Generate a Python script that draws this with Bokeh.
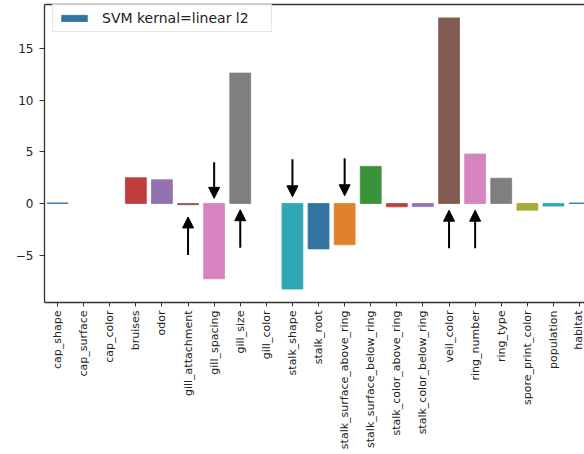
import math
from bokeh.plotting import figure
from bokeh.models import (Range1d, FixedTicker, LinearAxis, Arrow, NormalHead,
                          Legend, LegendItem, ColumnDataSource)
from bokeh.embed import file_html
from bokeh.resources import INLINE

# Mushroom features and their linear-SVM (L2) weights
features = ["cap_shape", "cap_surface", "cap_color", "bruises", "odor",
            "gill_attachment", "gill_spacing", "gill_size", "gill_color",
            "stalk_shape", "stalk_root", "stalk_surface_above_ring",
            "stalk_surface_below_ring", "stalk_color_above_ring",
            "stalk_color_below_ring", "veil_color", "ring_number", "ring_type",
            "spore_print_color", "population", "habitat"]
weights = [0.06, 0.0, 0.0, 2.5, 2.3,
           -0.12, -7.3, 12.65, 0.0,
           -8.3, -4.4, -4.0,
           3.6, -0.32,
           -0.3, 18.0, 4.8, 2.45,
           -0.65, -0.25, 0.05]

# Annotation arrows: (feature, tail y, head y)
arrow_marks = [("gill_attachment", -5.0, -1.3),
               ("gill_spacing", 4.0, 0.5),
               ("gill_size", -4.3, -0.6),
               ("stalk_shape", 4.3, 0.65),
               ("stalk_surface_above_ring", 4.4, 0.75),
               ("veil_color", -4.35, -0.65),
               ("ring_number", -4.35, -0.65)]

palette = ["#3274a1", "#e1812c", "#3a923a", "#c03d3e", "#9372b2",
           "#845b53", "#d684bd", "#7f7f7f", "#a9aa35", "#2ea8b6"]
colors = [palette[i % len(palette)] for i in range(len(features))]
edge_alpha = [1.0 if w != 0 else 0.0 for w in weights]
xs = list(range(len(features)))

src = ColumnDataSource(dict(x=xs, top=weights, color=colors, edge=edge_alpha))

FONT = "DejaVu Sans"
SPINE = "#333333"

p = figure(frame_width=540, frame_height=298,
           min_border_left=44, min_border_right=0, min_border_top=4,
           min_border_bottom=152,
           x_range=Range1d(-0.5, 20.19), y_range=Range1d(-9.6, 19.3),
           output_backend="svg", toolbar_location=None,
           background_fill_color="white", border_fill_color="white")
p.outline_line_color = None
p.xgrid.visible = False
p.ygrid.visible = False

bars = p.vbar(x="x", top="top", bottom=0, width=0.8, source=src,
              fill_color="color", line_color="color", line_alpha="edge",
              line_width=0.8)

legend = Legend(items=[LegendItem(label="SVM kernal=linear l2",
                                  renderers=[bars], index=0)],
                location=(8, 270),
                label_text_font=FONT, label_text_font_size="14px",
                label_text_color="#222222",
                glyph_width=32, glyph_height=8, label_standoff=12,
                label_height=16, label_width=164,
                padding=5, spacing=0,
                border_line_color="#cccccc", border_line_width=1,
                background_fill_color="white", background_fill_alpha=0.8)
p.add_layout(legend)

for name, y0, y1 in arrow_marks:
    i = features.index(name)
    p.add_layout(Arrow(end=NormalHead(size=11, fill_color="black", line_color="black"),
                       x_start=i, y_start=y0, x_end=i, y_end=y1,
                       line_color="black", line_width=2))

# axes
xa = p.xaxis[0]
xa.ticker = FixedTicker(ticks=xs)
xa.major_label_overrides = {i: f for i, f in enumerate(features)}
xa.major_label_orientation = math.pi / 2
xa.major_label_text_font = FONT
xa.major_label_text_font_size = "11px"
xa.major_label_text_color = "#222222"
xa.major_label_standoff = 4
xa.major_tick_out = 4
xa.major_tick_in = 0
xa.minor_tick_out = 0
xa.minor_tick_in = 0
xa.axis_line_color = SPINE
xa.axis_line_width = 1.3
xa.major_tick_line_color = SPINE

ya = p.yaxis[0]
ya.ticker = FixedTicker(ticks=[-5, 0, 5, 10, 15])
ya.major_label_overrides = {-5: "\u22125"}
ya.major_label_text_font = FONT
ya.major_label_text_font_size = "12px"
ya.major_label_text_color = "#222222"
ya.major_label_standoff = 6
ya.major_tick_out = 5
ya.major_tick_in = 0
ya.minor_tick_out = 0
ya.minor_tick_in = 0
ya.axis_line_color = SPINE
ya.axis_line_width = 1.3
ya.major_tick_line_color = SPINE

# top spine
top = LinearAxis(ticker=FixedTicker(ticks=[]), major_tick_out=0, major_tick_in=0,
                 minor_tick_out=0, minor_tick_in=0, major_label_standoff=0,
                 major_label_text_font_size="0px",
                 axis_line_color=SPINE, axis_line_width=1.3)
p.add_layout(top, "above")

open("out.html", "w").write(file_html(p, INLINE))
